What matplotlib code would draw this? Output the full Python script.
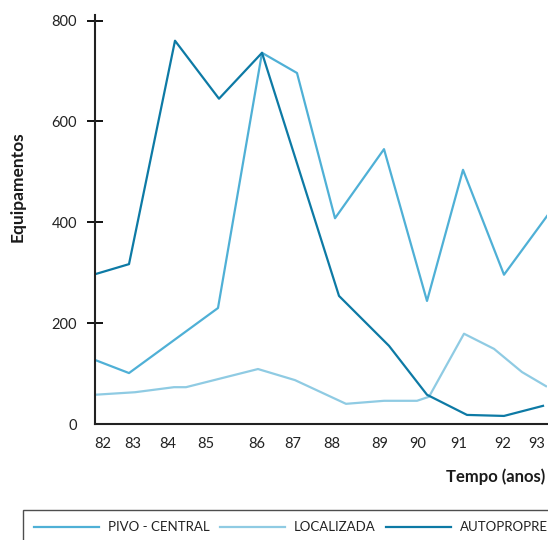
import matplotlib.pyplot as plt

# horizontal positions are in axis units (0 = y axis, 452 = right edge)
tick_pos = [8, 38, 73, 111, 162, 198, 237, 285, 323, 364, 408, 442]
tick_labels = ["82", "83", "84", "85", "86", "87", "88", "89", "90", "91", "92", "93"]

pivo_x = [0, 34, 123, 167, 202, 240, 289, 332, 368, 409, 453]
pivo_y = [127, 101, 230, 736, 696, 408, 545, 244, 504, 296, 415]

local_x = [0, 40, 79, 91, 163, 200, 251, 289, 322, 334, 369, 399, 427, 451]
local_y = [58, 63, 73, 73, 109, 87, 40, 46, 46, 54, 179, 149, 103, 75]

auto_x = [0, 34, 80, 124, 167, 244, 294, 332, 372, 409, 448]
auto_y = [297, 317, 760, 645, 736, 254, 155, 58, 18, 16, 36]

c_pivo = "#4fb0d6"
c_local = "#8fcbe3"
c_auto = "#0d7aa5"

plt.rcParams["font.family"] = ["Lato", "DejaVu Sans"]

fig = plt.figure(figsize=(5.48, 5.40), dpi=100)
ax = fig.add_axes([95/548, 116/540, 452/548, 409/540])

ax.plot(pivo_x, pivo_y, color=c_pivo, lw=1.6, label="PIVO - CENTRAL")
ax.plot(local_x, local_y, color=c_local, lw=1.6, label="LOCALIZADA")
ax.plot(auto_x, auto_y, color=c_auto, lw=1.6, label="AUTOPROPRELIDO")

ax.set_xlim(0, 452)
ax.set_ylim(0, 811)
ax.set_yticks([0, 200, 400, 600, 800])
ax.set_xticks(tick_pos)
ax.set_xticklabels(tick_labels)
ax.tick_params(axis="y", direction="inout", length=12, width=1.3, labelsize=10.5,
               pad=7, labelcolor="#222222")
ax.tick_params(axis="x", length=0, labelsize=10.5, pad=9, labelcolor="#222222")
ax.yaxis.get_major_ticks()[0].tick1line.set_visible(False)

for s in ["top", "right"]:
    ax.spines[s].set_visible(False)
for s in ["left", "bottom"]:
    ax.spines[s].set_linewidth(1.5)
    ax.spines[s].set_color("#222222")

fig.text(18/548, 1 - 187/540, "Equipamentos", rotation=90, fontweight="bold",
         fontsize=12.5, ha="center", va="center", color="#1a1a1a")
fig.text(446/548, 1 - 477/540, "Tempo (anos)", fontweight="bold",
         fontsize=12, ha="left", va="center", color="#1a1a1a")

leg = fig.legend(loc="upper left", bbox_to_anchor=(23/548, 1 - 510/540), ncol=3,
                 frameon=True, fancybox=False, edgecolor="#222222",
                 fontsize=9.5, handlelength=4.9, handletextpad=0.7,
                 columnspacing=0.8, borderaxespad=0, borderpad=0.85)
leg.get_frame().set_linewidth(1.0)
for t in leg.get_texts():
    t.set_color("#222222")

fig.savefig("out.png", dpi=100)
